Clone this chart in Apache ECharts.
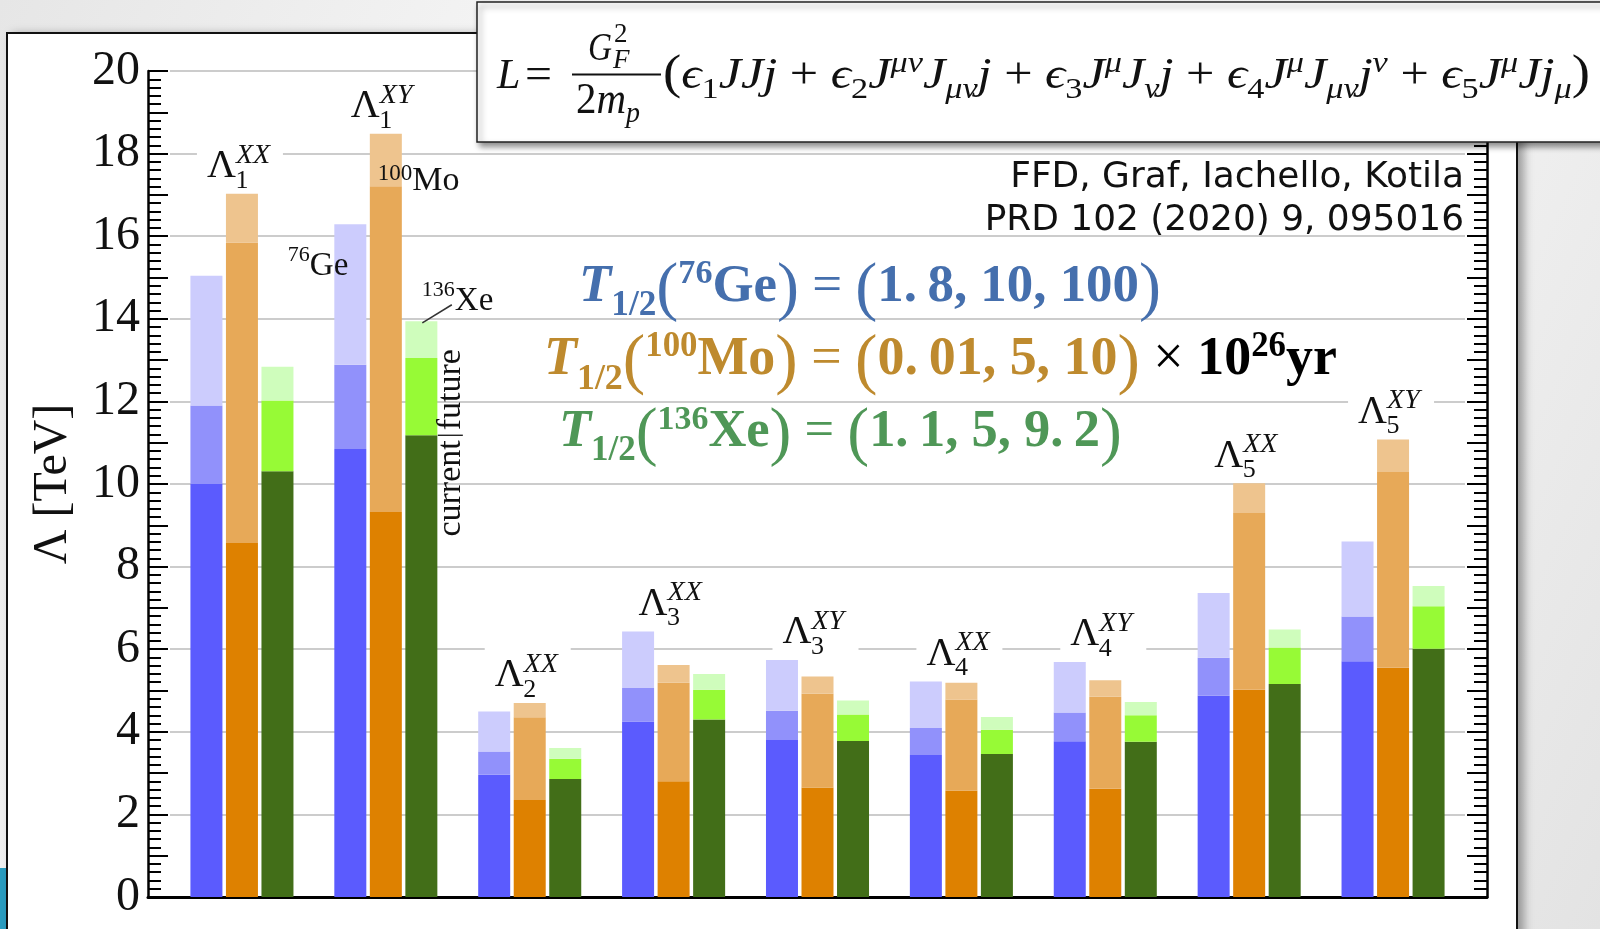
<!DOCTYPE html>
<html><head><meta charset="utf-8">
<script src="https://cdn.jsdelivr.net/npm/echarts@6/dist/echarts.min.js"></script>
<style>
html,body{margin:0;padding:0;width:1600px;height:929px;overflow:hidden;}
body{background:linear-gradient(115deg,#e6e6e6 0%,#f6f6f6 30%,#f3f3f3 70%,#e3e3e3 100%);position:relative;}
#deco{position:absolute;left:0;top:868px;width:8px;height:61px;background:#2a9cc0;}
#panel{position:absolute;left:6px;top:32px;width:1508px;height:1000px;background:#fff;border:2px solid #111;box-shadow:6px 2px 9px rgba(0,0,0,0.35);}
#chart{position:absolute;left:0;top:0;width:1600px;height:929px;}
</style></head><body>
<div id="deco"></div><div id="panel"></div><div id="chart"></div>
<script>
// ---------------- data ----------------
const categories = ['Λ1XX','Λ1XY','Λ2XX','Λ3XX','Λ3XY','Λ4XX','Λ4XY','Λ5XX','Λ5XY'];
const labelSub = ['1','1','2','3','3','4','4','5','5'];
const labelSup = ['XX','XY','XX','XX','XY','XX','XY','XX','XY'];
// 76Ge limits (current, intermediate, future)
const geCurrent = [10.00, 10.85, 2.96, 4.25, 3.80, 3.44, 3.77, 4.87, 5.71];
const geMid     = [11.90, 12.89, 3.52, 5.06, 4.51, 4.09, 4.47, 5.79, 6.79];
const geFuture  = [15.04, 16.29, 4.49, 6.43, 5.74, 5.22, 5.69, 7.36, 8.61];
// 100Mo limits
const moCurrent = [8.57, 9.32, 2.35, 2.80, 2.65, 2.58, 2.62, 5.02, 5.55];
const moMid     = [15.85, 17.21, 4.35, 5.19, 4.92, 4.78, 4.85, 9.30, 10.29];
const moFuture  = [17.03, 18.48, 4.70, 5.62, 5.34, 5.19, 5.25, 10.02, 11.08];
// 136Xe limits
const xeCurrent = [10.31, 11.18, 2.86, 4.30, 3.78, 3.46, 3.76, 5.16, 6.01];
const xeMid     = [12.02, 13.05, 3.35, 5.02, 4.42, 4.05, 4.40, 6.04, 7.04];
const xeFuture  = [12.84, 13.94, 3.61, 5.40, 4.76, 4.36, 4.72, 6.48, 7.53];
const yTickLabels = [0, 2, 4, 6, 8, 10, 12, 14, 16, 18, 20];

// ---------------- helpers ----------------
const SERIF = "'Liberation Serif','DejaVu Serif',serif";
const SANS = "'DejaVu Sans',sans-serif";
const mctx = document.createElement('canvas').getContext('2d');
function measure(t, font){ mctx.font = font; return mctx.measureText(t).width; }
function buildRuns(x0, baseline, pieces, scale, z){
  let x = x0; const els = [];
  for (const p of pieces){
    const size = p.size*scale;
    const font = (p.i?'italic ':'') + (p.b?'bold ':'') + size.toFixed(2) + 'px ' + (p.f||SERIF);
    const w = measure(p.t, font);
    const px = x + (p.dx||0)*scale;
    const el = {type:'text', style:{text:p.t, x:px, y:baseline + (p.dy||0)*scale - 0.34*size, font:font, fill:p.c||'#111', align:'left', verticalAlign:'middle'}};
    if (z !== undefined) el.z = z;
    els.push(el);
    if (!p.hold) x = px + w;
  }
  return {els, width:x - x0};
}
function fitRuns(x0, x1, baseline, pieces, z){
  const w = buildRuns(0, 0, pieces, 1).width;
  return buildRuns(x0, baseline, pieces, (x1-x0)/w, z).els;
}
// keeps font height, squeezes horizontally to span x0..x1
function squeezeRuns(x0, x1, baseline, pieces, z){
  const r = buildRuns(0, baseline, pieces, 1, z);
  return {type:'group', z:z, x:x0, y:0, scaleX:(x1-x0)/r.width, scaleY:1, children:r.els};
}
function layers(cur, mid, fut){
  return [cur.slice(), mid.map((v,i)=>+(v-cur[i]).toFixed(3)), fut.map((v,i)=>+(v-mid[i]).toFixed(3))];
}

const isotopes = [
  {stack:'Ge', vals:layers(geCurrent, geMid, geFuture), colors:['#5B5BFE','#9191FB','#CCCCFD']},
  {stack:'Mo', vals:layers(moCurrent, moMid, moFuture), colors:['#DE8100','#E7A958','#EEC48E']},
  {stack:'Xe', vals:layers(xeCurrent, xeMid, xeFuture), colors:['#426E18','#97FA36','#CFFDBC']}
];
const barSeries = [];
isotopes.forEach(iso => {
  iso.vals.forEach((d, k) => {
    barSeries.push({type:'bar', name:iso.stack+k, stack:iso.stack, xAxisIndex:1, yAxisIndex:2,
      data:d, barWidth:32, barGap:'11%', itemStyle:{color:iso.colors[k]}, silent:true});
  });
});

const groupMax = categories.map((c,i)=>[i, Math.max(geFuture[i], moFuture[i], xeFuture[i])]);

const labelSeries = {
  type:'custom', xAxisIndex:1, yAxisIndex:2, clip:false, silent:true, z:5,
  data: groupMax, encode:{x:0, y:1},
  renderItem(params, api){
    const i = api.value(0);
    const p = api.coord([i, api.value(1)]);
    const cx = p[0], top = p[1];
    const txt = (t, x, base, size, italic) => ({type:'text', style:{text:t, x:x, y:base-0.34*size,
      font:(italic?'italic ':'')+size+'px '+SERIF, fill:'#111', align:'left', verticalAlign:'middle'}});
    return {type:'group', children:[
      {type:'rect', shape:{x:cx-45, y:top-58, width:86, height:56}, style:{fill:'#fff'}},
      txt('Λ', cx-35, top-13.5, 40),
      txt(labelSub[i], cx-6.5, top-4, 26),
      txt(labelSup[i], cx-6, top-29, 28, true)
    ]};
  }
};

const annotSeries = {
  type:'custom', xAxisIndex:1, yAxisIndex:2, clip:false, silent:true, z:6,
  data:[[1, xeCurrent[1]]], encode:{x:0, y:1},
  renderItem(params, api){
    const c = api.coord([api.value(0), 0]);
    const cx = c[0];
    const yv = v => api.coord([api.value(0), v])[1];
    const ge = buildRuns(cx-98, yv(14.99), [{t:'76', size:22, dy:-15}, {t:'Ge', size:33}], 1).els;
    const mo = buildRuns(cx-8, yv(17.05), [{t:'100', size:23, dy:-11}, {t:'Mo', size:34}], 1).els;
    const xe = buildRuns(cx+36, yv(14.14), [{t:'136', size:22, dy:-15}, {t:'Xe', size:33}], 1).els;
    const lead = {type:'line', shape:{x1:cx+36.5, y1:yv(13.9), x2:cx+66, y2:yv(14.34)}, style:{stroke:'#333', lineWidth:1.5}};
    const cf = {type:'group', x:cx+65, y:yv(api.value(1)), rotation:Math.PI/2, children:[
      {type:'text', style:{text:'current', x:-5, y:0, font:'34px '+SERIF, fill:'#111', align:'right', verticalAlign:'middle'}},
      {type:'line', shape:{x1:0, y1:-13, x2:0, y2:12}, style:{stroke:'#111', lineWidth:1.3}},
      {type:'text', style:{text:'future', x:5, y:0, font:'34px '+SERIF, fill:'#111', align:'left', verticalAlign:'middle'}}
    ]};
    return {type:'group', children:[].concat(ge, mo, xe, [lead, cf])};
  }
};

// ---------------- slide texts ----------------
const GE_C = '#456FAD', MO_C = '#BE8A2E', XE_C = '#4F9757';
function tLine(iso, mass, vals, color, extra){
  return [
    {t:'T', size:48, b:1, i:1, c:color},
    {t:'1/2', size:32, b:1, dy:12, c:color},
    {t:'(', size:60, dy:7, c:color},
    {t:mass, size:31, b:1, dy:-17, c:color},
    {t:iso, size:48, b:1, c:color},
    {t:')', size:60, dy:7, c:color},
    {t:' = ', size:48, c:color},
    {t:'(', size:60, dy:7, c:color},
    {t:vals, size:48, b:1, c:color},
    {t:')', size:60, dy:7, c:color}
  ].concat(extra||[]);
}
const moExtra = [{t:' × ', size:48, c:'#000'}, {t:'10', size:48, b:1, c:'#000'}, {t:'26', size:31, b:1, dy:-17, c:'#000'}, {t:'yr', size:48, b:1, c:'#000'}];

const exprPieces = (() => {
  const I = t => ({t, size:44, i:1});
  const R = t => ({t, size:44});
  const SB = (t, it) => ({t, size:30, i:it?1:0, dy:9});
  const SP = (t) => ({t, size:30, i:1, dy:-17});
  return [{t:'(', size:48, dy:1}, I('ϵ'), SB('1'), I('JJj'), R(' + '), I('ϵ'), SB('2'), I('J'), SP('μν'), I('J'), SB('μν',1), I('j'),
    R(' + '), I('ϵ'), SB('3'), I('J'), SP('μ'), I('J'), SB('ν',1), I('j'),
    R(' + '), I('ϵ'), SB('4'), I('J'), SP('μ'), I('J'), SB('μν',1), I('j'), SP('ν'),
    R(' + '), I('ϵ'), SB('5'), I('J'), SP('μ'), I('Jj'), SB('μ',1), {t:')', size:48, dy:1}];
})();

const ffdSize = 32 * 454 / measure('FFD, Graf, Iachello, Kotila', '32px ' + SANS);

const graphicEls = [
  {type:'rect', z:100, shape:{x:477, y:2, width:1140, height:140},
   style:{fill:'#fff', stroke:'#222', lineWidth:1.5, shadowBlur:6, shadowOffsetX:3, shadowOffsetY:4, shadowColor:'rgba(0,0,0,0.45)'}},
  {type:'line', z:101, shape:{x1:572, y1:74.5, x2:661, y2:74.5}, style:{stroke:'#111', lineWidth:2}},
  {type:'text', z:90, style:{text:'FFD, Graf, Iachello, Kotila', x:1464, y:190-0.346*ffdSize, font:ffdSize.toFixed(2)+'px '+SANS, fill:'#111', align:'right', verticalAlign:'middle'}},
  {type:'text', z:90, style:{text:'PRD 102 (2020) 9, 095016', x:1464, y:233-0.346*ffdSize, font:ffdSize.toFixed(2)+'px '+SANS, fill:'#111', align:'right', verticalAlign:'middle'}},
  squeezeRuns(497, 1590, 91, [{t:'L', size:44, i:1}], 101),
  squeezeRuns(525, 552, 91, [{t:'=', size:44}], 101),
  squeezeRuns(588, 612, 63, [{t:'G', size:40, i:1}], 101),
  squeezeRuns(576, 640, 116, [{t:'2', size:44}, {t:'m', size:44, i:1}, {t:'p', size:30, i:1, dy:8}], 101),
  squeezeRuns(663, 1590, 91, exprPieces, 101)
].concat(
  buildRuns(613, 70, [{t:'F', size:27, i:1}], 1, 101).els,
  buildRuns(614, 44, [{t:'2', size:27}], 1, 101).els,
  fitRuns(579, 1161, 305, tLine('Ge', '76', '1.\u20098, 10, 100', GE_C), 90),
  fitRuns(544, 1337, 378, tLine('Mo', '100', '0.\u200901, 5, 10', MO_C, moExtra), 90),
  fitRuns(559, 1122, 450, tLine('Xe', '136', '1.\u20091, 5, 9.\u20092', XE_C), 90)
);
// the "L" piece should not be stretched: fix it
graphicEls[4] = {type:'group', z:101, x:0, y:0, children:buildRuns(497, 91, [{t:'L', size:42, i:1}], 1, 101).els};

// ---------------- chart ----------------
const tickAxis = (pos, withLabels) => ({
  gridIndex:0, type:'value', position:pos, min:0, max:20, interval:1,
  axisLine:{show:true, onZero:false, lineStyle:{color:'#000', width:2.5}},
  axisTick:{show:true, inside:true, length:20, lineStyle:{color:'#000', width:2}},
  minorTick:{show:true, splitNumber:5, length:13, lineStyle:{color:'#000', width:2}},
  splitLine:{show:false}, minorSplitLine:{show:false},
  axisLabel:{show:withLabels, margin:8, fontFamily:SERIF, fontSize:48, color:'#111',
    formatter: v => yTickLabels.indexOf(v) >= 0 ? String(v) : ''},
  name: withLabels ? 'Λ [TeV]' : '', nameLocation:'middle', nameGap:71, nameRotate:90,
  nameTextStyle:{fontFamily:SERIF, fontSize:48, color:'#111'}
});

const chart = echarts.init(document.getElementById('chart'), null, {renderer:'canvas'});
chart.setOption({
  backgroundColor:'transparent',
  animation:false,
  grid:[
    {left:148, right:113, top:71, bottom:32, outerBoundsMode:'none'},
    {left:170, right:135, top:71, bottom:32, outerBoundsMode:'none'}
  ],
  xAxis:[
    {gridIndex:0, type:'value', min:0, max:1, position:'bottom',
     axisLine:{show:true, onZero:false, lineStyle:{color:'#000', width:3}},
     axisTick:{show:false}, axisLabel:{show:false}, splitLine:{show:false}},
    {gridIndex:1, type:'category', data:categories, show:false, boundaryGap:true}
  ],
  yAxis:[
    tickAxis('left', true),
    tickAxis('right', false),
    {gridIndex:1, type:'value', min:0, max:20, interval:2, axisLine:{show:false}, axisTick:{show:false},
     axisLabel:{show:false}, splitLine:{show:true, lineStyle:{color:'#cccccc', width:2}}}
  ],
  graphic:{elements:graphicEls},
  series: barSeries.concat([labelSeries, annotSeries])
});
</script></body></html>
